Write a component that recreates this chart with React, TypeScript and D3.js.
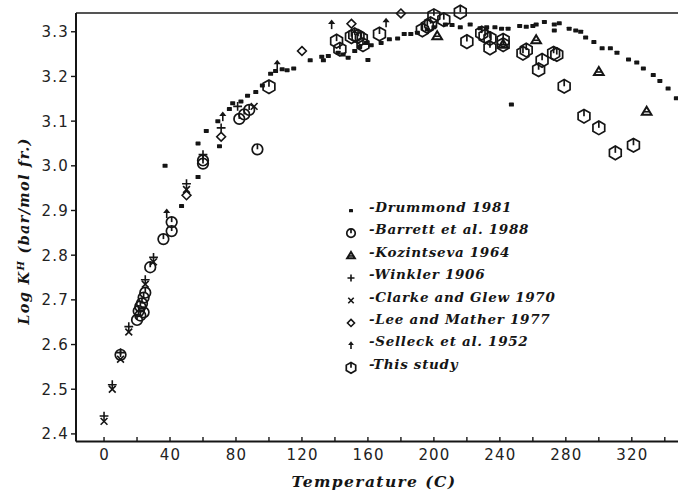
// @ts-nocheck
import * as d3 from "d3"
import { useEffect, useRef } from "react"
import * as React from "react"

// [temperature C, log K^H]
const drummond = [
  [37, 3.0], [47, 2.91], [57, 2.975], [57, 3.05], [62, 3.078], [69, 3.1], [70, 3.044], [76, 3.127],
  [78, 3.14], [83, 3.144], [87, 3.157], [92, 3.165], [96, 3.18], [101, 3.206], [104, 3.212],
  [108, 3.216], [111, 3.214], [115, 3.218], [125, 3.236], [132, 3.244], [133, 3.236], [136, 3.246],
  [142, 3.253], [145, 3.249], [148, 3.242], [152, 3.257], [155, 3.266], [160, 3.237], [159, 3.275],
  [162, 3.27], [168, 3.275], [173, 3.283], [178, 3.285], [182, 3.295], [186, 3.295], [190, 3.298],
  [196, 3.305], [200, 3.31], [207, 3.316], [211, 3.315], [216, 3.31], [222, 3.316], [228, 3.308],
  [232, 3.31], [237, 3.31], [241, 3.307], [245, 3.307], [247, 3.137], [252, 3.313], [256, 3.311],
  [260, 3.313], [262, 3.316], [267, 3.322], [273, 3.316], [273, 3.303], [276, 3.319], [282, 3.307],
  [286, 3.303], [289, 3.3], [292, 3.287], [297, 3.277], [302, 3.263], [307, 3.263], [311, 3.253],
  [318, 3.238], [323, 3.231], [327, 3.218], [333, 3.203], [337, 3.19], [342, 3.173], [347, 3.151],
]
const barrett = [
  [10, 2.577], [20, 2.655], [21, 2.675], [22, 2.685], [23, 2.692], [24, 2.705], [25, 2.716],
  [22, 2.665], [24, 2.672], [28, 2.773], [36, 2.836], [41, 2.854], [41, 2.874], [60, 3.005],
  [60, 3.012], [82, 3.105], [85, 3.115], [88, 3.125], [93, 3.037],
]
const kozintseva = [[202, 3.291], [242, 3.272], [262, 3.282], [300, 3.211], [329, 3.122]]
const winkler = [[0, 2.44], [5, 2.51], [10, 2.582], [15, 2.64], [25, 2.745], [30, 2.795], [50, 2.96], [60, 3.025], [71, 3.085], [81, 3.133]]
const clarke = [[0, 2.428], [5, 2.5], [10, 2.567], [15, 2.628], [25, 2.735], [30, 2.785], [50, 2.947], [91, 3.133]]
const lee = [[50, 2.934], [71, 3.065], [120, 3.257], [150, 3.318], [180, 3.341]]
const selleck = [[38, 2.893], [72, 3.11], [105, 3.226], [138, 3.316], [171, 3.32]]
const thisStudy = [
  [100, 3.177], [141, 3.279], [143, 3.261], [150, 3.289], [152, 3.293], [154, 3.29], [156, 3.285],
  [157, 3.271], [167, 3.295], [193, 3.304], [196, 3.312], [198, 3.318], [200, 3.336], [206, 3.327],
  [216, 3.344], [220, 3.278], [229, 3.297], [231, 3.29], [234, 3.285], [234, 3.264], [242, 3.271],
  [242, 3.281], [254, 3.252], [256, 3.259], [263.5, 3.215], [265.6, 3.236], [272.6, 3.252],
  [274.5, 3.249], [279, 3.178], [291, 3.111], [300, 3.085], [310, 3.029], [321, 3.046],
]

const seriesKinds = ["drummond", "barrett", "kozintseva", "winkler", "clarke", "lee", "selleck", "study"]
const seriesData = [drummond, barrett, kozintseva, winkler, clarke, lee, selleck, thisStudy]
const legendLabels = [
  "-Drummond 1981", "-Barrett et al. 1988", "-Kozintseva 1964", "-Winkler 1906",
  "-Clarke and Glew 1970", "-Lee and Mather 1977", "-Selleck et al. 1952", "-This study",
]
const xTicks = d3.range(0, 341, 20)
const xTickLabels = [0, 40, 80, 120, 160, 200, 240, 280, 320]
const yTickLabels = [2.4, 2.5, 2.6, 2.7, 2.8, 2.9, 3.0, 3.1, 3.2, 3.3]

const ink = "#151515"

function drawMarker(g, kind, s = 1) {
  const sw = 1.7
  if (kind === "drummond") {
    g.append("rect").attr("x", -2.5 * s).attr("y", -2 * s).attr("width", 5 * s).attr("height", 4 * s).attr("rx", 0.6).attr("fill", ink)
  } else if (kind === "barrett") {
    g.append("circle").attr("r", 5.3 * s).attr("fill", "none").attr("stroke", ink).attr("stroke-width", sw)
    g.append("line").attr("y1", -5.3 * s).attr("y2", 0).attr("stroke", ink).attr("stroke-width", sw)
  } else if (kind === "study") {
    const r = 6.8 * s
    const pts = d3.range(6).map(i => {
      const a = -Math.PI / 2 + i * Math.PI / 3
      return [r * Math.cos(a), r * Math.sin(a)]
    })
    g.append("path").attr("d", d3.line()(pts) + "Z").attr("fill", "none").attr("stroke", ink).attr("stroke-width", sw)
    g.append("line").attr("y1", -r).attr("y2", 0).attr("stroke", ink).attr("stroke-width", sw)
  } else if (kind === "kozintseva") {
    const h = 4.6 * s
    g.append("path").attr("d", `M0,${-h}L${h * 1.05},${h * 0.75}L${-h * 1.05},${h * 0.75}Z`)
      .attr("fill", "none").attr("stroke", ink).attr("stroke-width", 2)
    g.append("line").attr("x1", -h * 0.6).attr("x2", h * 0.6).attr("y1", h * 0.1).attr("y2", h * 0.1).attr("stroke", ink).attr("stroke-width", 1.6)
  } else if (kind === "winkler") {
    const a = 4.4 * s
    g.append("path").attr("d", `M${-a},0H${a}M0,${-a}V${a}`).attr("stroke", ink).attr("stroke-width", 1.6)
  } else if (kind === "clarke") {
    const a = 3.4 * s
    g.append("path").attr("d", `M${-a},${-a}L${a},${a}M${a},${-a}L${-a},${a}`).attr("stroke", ink).attr("stroke-width", 1.6)
  } else if (kind === "lee") {
    const a = 4.4 * s
    g.append("path").attr("d", `M0,${-a}L${a},0L0,${a}L${-a},0Z`).attr("fill", "none").attr("stroke", ink).attr("stroke-width", 1.6)
  } else if (kind === "selleck") {
    g.append("line").attr("y1", 4.5 * s).attr("y2", -2 * s).attr("stroke", ink).attr("stroke-width", 1.6)
    g.append("path").attr("d", `M${-3.6 * s},${-0.6 * s}L${3.6 * s},${-0.6 * s}L0,${-5.2 * s}Z`).attr("fill", ink)
  }
}

function buildSVG() {
  const width = 678
  const height = 492
  const x = d3.scaleLinear().domain([-17, 348]).range([76, 678])
  const y = d3.scaleLinear().domain([2.383, 3.342]).range([441.5, 13])

  const svg = d3.create("svg")
    .attr("width", width)
    .attr("height", height)
    .style("position", "absolute")
    .style("left", "0px")
    .style("top", "0px")
    .style("background", "#fff")

  // frame
  svg.append("line").attr("x1", 76).attr("x2", 678).attr("y1", 13).attr("y2", 13).attr("stroke", "#555").attr("stroke-width", 1.8)
  svg.append("line").attr("x1", 76).attr("x2", 76).attr("y1", 13).attr("y2", 441.5).attr("stroke", ink).attr("stroke-width", 2)
  svg.append("line").attr("x1", 76).attr("x2", 678).attr("y1", 441.5).attr("y2", 441.5).attr("stroke", ink).attr("stroke-width", 2)

  // x ticks (inside)
  svg.append("g").selectAll("line").data(xTicks).join("line")
    .attr("x1", d => x(d)).attr("x2", d => x(d))
    .attr("y1", 441.5).attr("y2", 437)
    .attr("stroke", ink).attr("stroke-width", 1.4)
  svg.append("g")
    .style("font-family", "'DejaVu Sans'")
    .style("font-size", "15px")
    .style("letter-spacing", "1.2px")
    .attr("fill", "#222")
    .attr("text-anchor", "middle")
    .selectAll("text").data(xTickLabels).join("text")
    .attr("x", d => x(d) + 0.6).attr("y", 460)
    .text(d => d)

  // y ticks (outside)
  svg.append("g").selectAll("line").data(yTickLabels).join("line")
    .attr("x1", 71).attr("x2", 76)
    .attr("y1", d => y(d)).attr("y2", d => y(d))
    .attr("stroke", ink).attr("stroke-width", 1.4)
  svg.append("g")
    .style("font-family", "'DejaVu Sans'")
    .style("font-size", "15px")
    .style("letter-spacing", "1.2px")
    .attr("fill", "#222")
    .attr("text-anchor", "end")
    .selectAll("text").data(yTickLabels).join("text")
    .attr("x", 69).attr("y", d => y(d) + 5.5)
    .text(d => d.toFixed(1))

  // axis titles
  svg.append("text")
    .attr("x", 374).attr("y", 487)
    .attr("text-anchor", "middle")
    .style("font-family", "'DejaVu Serif'")
    .style("font-style", "italic")
    .style("font-weight", "bold")
    .style("font-size", "15.5px")
    .style("letter-spacing", "1.4px")
    .attr("fill", ink)
    .text("Temperature (C)")

  const yt = svg.append("text")
    .attr("transform", "translate(29,231) rotate(-90)")
    .attr("text-anchor", "middle")
    .style("font-family", "'DejaVu Serif'")
    .style("font-style", "italic")
    .style("font-weight", "bold")
    .style("font-size", "14.5px")
    .style("letter-spacing", "1.3px")
    .attr("fill", ink)
  yt.append("tspan").text("Log K")
  yt.append("tspan").attr("dy", -5).style("font-size", "10px").text("H")
  yt.append("tspan").attr("dy", 5).text(" (bar/mol fr.)")

  // data
  seriesKinds.forEach((kind, i) => {
    const g = svg.append("g")
    seriesData[i].forEach(([t, v]) => {
      const m = g.append("g").attr("transform", `translate(${x(t)},${y(v)})`)
      drawMarker(m, kind)
    })
  })

  // legend
  const legend = svg.append("g")
  legendLabels.forEach((label, i) => {
    const by = 211.7 + i * 22.45
    const m = legend.append("g").attr("transform", `translate(351,${by - 1})`)
    drawMarker(m, seriesKinds[i], 0.8)
    legend.append("text")
      .attr("x", 369).attr("y", by)
      .style("font-family", "'DejaVu Serif'")
      .style("font-style", "italic")
      .style("font-weight", "bold")
      .style("font-size", "13.5px")
      .style("letter-spacing", "0.7px")
      .attr("fill", ink)
      .text(label)
  })

  return svg
}

export default function App() {
  const chartContainerRef = useRef<HTMLDivElement>(null)
  useEffect(() => {
    const svg = buildSVG()
    const chartContainer = chartContainerRef.current
    while (chartContainer.hasChildNodes()) {
      chartContainer.removeChild(chartContainer.lastChild)
    }
    chartContainer.append(svg.node())
  }, [])
  return <div ref={chartContainerRef} />
}
